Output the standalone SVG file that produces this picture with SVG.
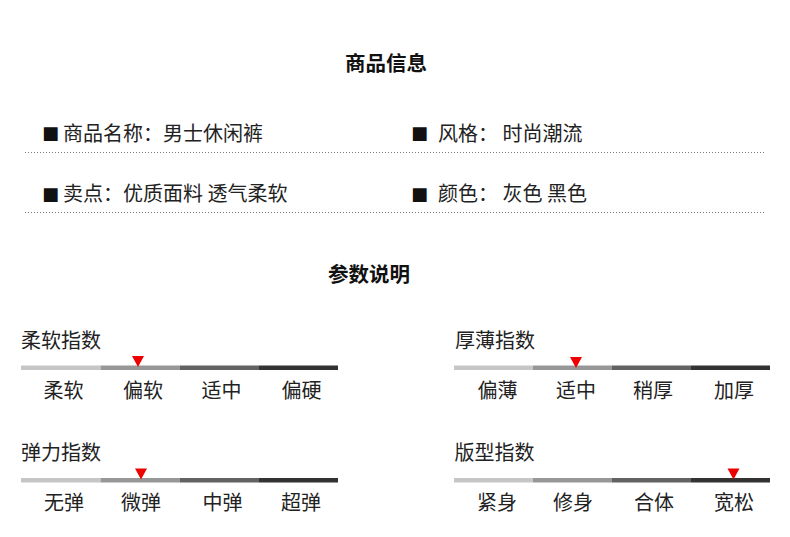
<svg xmlns="http://www.w3.org/2000/svg" width="790" height="537" viewBox="0 0 790 537">
<style>
text{font-family:"Noto Sans CJK SC","Noto Sans",sans-serif;fill:#222;font-size:20px}
.h{font-weight:bold;fill:#111;font-size:20.5px}
.b{font-family:"DejaVu Sans",sans-serif;font-size:18px;fill:#111}
.lbl{text-anchor:middle}
.dot{stroke:#777;stroke-width:1;stroke-dasharray:1 2;fill:none}
.s1{fill:#c6c6c6}.s2{fill:#979797}.s3{fill:#626262}.s4{fill:#333}
.tri{fill:#ee0000}
</style>
<rect width="790" height="537" fill="#fff"/>
<g id="title-info"><text class="h" x="345" y="70.5">商品信息</text></g>
<g id="info-rows">
  <text class="b" x="42" y="139">■</text>
  <text x="63" y="140.5">商品名称：男士休闲裤</text>
  <text class="b" x="411" y="139">■</text>
  <text x="438" y="140.5">风格： 时尚潮流</text>
  <text class="b" x="42" y="199.5">■</text>
  <text x="63" y="201">卖点：优质面料 透气柔软</text>
  <text class="b" x="411" y="199.5">■</text>
  <text x="438" y="201">颜色： 灰色 黑色</text>
</g>
<g id="dividers">
  <line class="dot" x1="25" y1="152.5" x2="765" y2="152.5"/>
  <line class="dot" x1="25" y1="212.5" x2="765" y2="212.5"/>
</g>
<g id="title-params"><text class="h" x="328" y="282">参数说明</text></g>
<g id="softness">
  <text x="21" y="347.5">柔软指数</text>
  <rect class="s1" x="21" y="365.5" width="79.5" height="4.5"/>
  <rect class="s2" x="100.5" y="365.5" width="79.5" height="4.5"/>
  <rect class="s3" x="180" y="365.5" width="79" height="4.5"/>
  <rect class="s4" x="259" y="365.5" width="79" height="4.5"/>
  <polygon class="tri" points="132,356 144,356 138,367"/>
  <text class="lbl" x="63.5" y="397.5">柔软</text>
  <text class="lbl" x="143" y="397.5">偏软</text>
  <text class="lbl" x="221.5" y="397.5">适中</text>
  <text class="lbl" x="301.5" y="397.5">偏硬</text>
</g>
<g id="thickness">
  <text x="455" y="347.5">厚薄指数</text>
  <rect class="s1" x="454" y="365.5" width="79" height="4.5"/>
  <rect class="s2" x="533" y="365.5" width="79" height="4.5"/>
  <rect class="s3" x="612" y="365.5" width="79" height="4.5"/>
  <rect class="s4" x="691" y="365.5" width="79" height="4.5"/>
  <polygon class="tri" points="570,357 582,357 576,368"/>
  <text class="lbl" x="497.5" y="397.5">偏薄</text>
  <text class="lbl" x="576" y="397.5">适中</text>
  <text class="lbl" x="653" y="397.5">稍厚</text>
  <text class="lbl" x="734" y="397.5">加厚</text>
</g>
<g id="elasticity">
  <text x="21" y="460">弹力指数</text>
  <rect class="s1" x="21" y="478" width="79.5" height="4.5"/>
  <rect class="s2" x="100.5" y="478" width="79.5" height="4.5"/>
  <rect class="s3" x="180" y="478" width="79" height="4.5"/>
  <rect class="s4" x="259" y="478" width="79" height="4.5"/>
  <polygon class="tri" points="135,468.5 147,468.5 141,479.5"/>
  <text class="lbl" x="64" y="510">无弹</text>
  <text class="lbl" x="141" y="510">微弹</text>
  <text class="lbl" x="222.5" y="510">中弹</text>
  <text class="lbl" x="301" y="510">超弹</text>
</g>
<g id="fit">
  <text x="454.5" y="460">版型指数</text>
  <rect class="s1" x="454" y="478" width="79" height="4.5"/>
  <rect class="s2" x="533" y="478" width="79" height="4.5"/>
  <rect class="s3" x="612" y="478" width="79" height="4.5"/>
  <rect class="s4" x="691" y="478" width="79" height="4.5"/>
  <polygon class="tri" points="727.5,468.5 739.5,468.5 733.5,479.5"/>
  <text class="lbl" x="497" y="510">紧身</text>
  <text class="lbl" x="573" y="510">修身</text>
  <text class="lbl" x="654" y="510">合体</text>
  <text class="lbl" x="734" y="510">宽松</text>
</g>
</svg>
